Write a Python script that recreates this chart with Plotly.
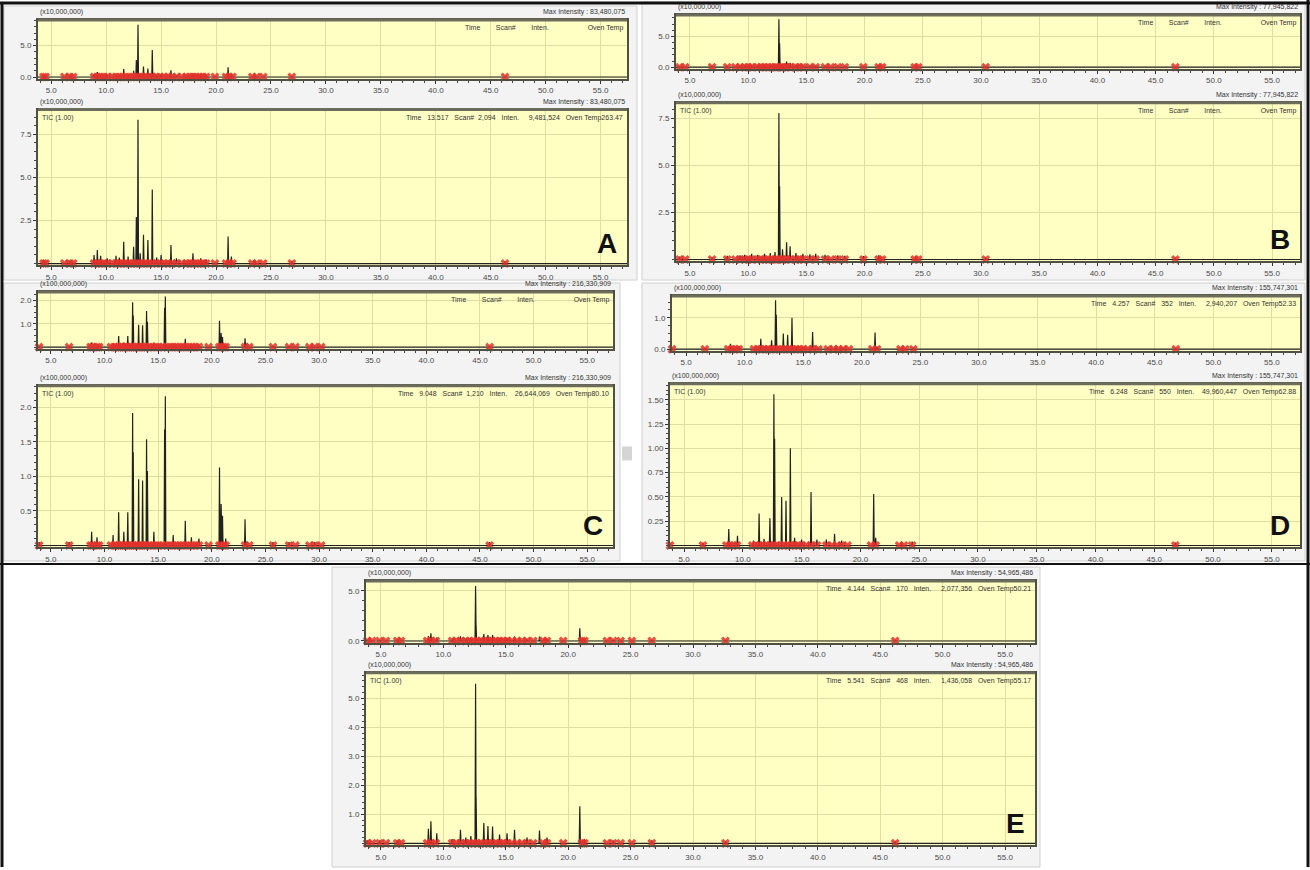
import plotly.graph_objects as go

W, H = 1310, 870

# ---------------- data (retention time in min, intensity in axis units) ----------------
A_peak_rt = [4.3, 6.7, 8.9, 9.2, 9.5, 10.1, 10.9, 11.2, 11.6, 12.0, 12.5, 12.75, 12.9, 13.1, 13.4, 13.8, 14.2, 14.6, 15.0, 15.9, 16.4, 17.9, 18.6, 19.1, 21.1, 21.4, 23.5, 26.9, 46.3]
A_peak_h = [0.2, 0.15, 0.5, 0.78, 0.45, 0.3, 0.45, 0.35, 1.27, 0.4, 0.98, 2.7, 8.35, 0.6, 1.67, 1.37, 4.3, 0.35, 0.5, 1.08, 0.3, 0.6, 0.3, 0.25, 1.57, 0.4, 0.2, 0.15, 0.12]
A_marker_rt = [4.3, 4.5, 6.2, 6.7, 7.0, 8.9, 9.2, 9.5, 9.8, 10.1, 10.6, 10.9, 11.2, 11.5, 11.8, 12.1, 12.4, 12.7, 13.0, 13.3, 13.6, 13.9, 14.2, 14.6, 14.9, 15.3, 15.6, 16.0, 16.4, 16.9, 17.3, 17.6, 17.9, 18.2, 18.5, 18.8, 19.1, 19.9, 20.9, 21.2, 21.5, 23.3, 23.7, 24.3, 26.9, 46.3]

B_peak_rt = [4.1, 6.9, 8.2, 9.3, 9.7, 10.3, 10.8, 11.4, 11.9, 12.3, 12.64, 12.7, 12.95, 13.3, 13.6, 14.1, 14.7, 15.3, 15.8, 16.6, 17.7, 18.3, 19.9, 21.2, 24.4, 30.4, 46.7]
B_peak_h = [0.15, 0.12, 0.2, 0.22, 0.25, 0.3, 0.25, 0.3, 0.35, 0.4, 7.79, 3.9, 0.55, 0.92, 0.7, 0.35, 0.3, 0.28, 0.3, 0.25, 0.22, 0.2, 0.18, 0.22, 0.15, 0.1, 0.1]
B_marker_rt = [4.1, 4.6, 6.9, 8.2, 8.9, 9.3, 9.7, 10.0, 10.3, 10.8, 11.1, 11.4, 11.7, 12.0, 12.3, 12.5, 12.8, 13.0, 13.3, 13.6, 14.1, 14.4, 14.7, 15.3, 15.8, 16.6, 17.1, 17.7, 18.3, 19.9, 21.2, 21.5, 24.3, 24.6, 30.4, 46.7]

C_peak_rt = [3.9, 6.7, 8.8, 9.3, 10.8, 11.32, 11.8, 12.17, 12.62, 12.68, 13.18, 13.55, 13.92, 14.0, 14.6, 15.6, 15.67, 16.4, 17.53, 18.1, 18.8, 20.72, 20.87, 21.0, 21.3, 23.1, 25.7, 27.2, 29.6, 45.9]
C_peak_h = [0.05, 0.05, 0.2, 0.12, 0.15, 0.48, 0.2, 0.48, 1.92, 1.35, 0.96, 0.94, 1.54, 1.08, 0.2, 1.68, 2.16, 0.15, 0.36, 0.12, 0.1, 1.13, 0.6, 0.43, 0.1, 0.38, 0.05, 0.05, 0.05, 0.05]
C_marker_rt = [3.9, 6.7, 8.7, 8.9, 9.3, 9.5, 10.6, 10.9, 11.1, 11.3, 11.5, 11.7, 11.9, 12.1, 12.3, 12.5, 12.7, 12.9, 13.1, 13.3, 13.5, 13.7, 13.9, 14.2, 14.5, 14.8, 15.1, 15.4, 15.8, 16.1, 16.4, 16.7, 17.0, 17.3, 17.6, 17.9, 18.2, 18.5, 18.8, 19.7, 20.7, 20.9, 21.1, 21.3, 23.1, 23.5, 25.7, 27.2, 27.8, 29.1, 29.6, 30.2, 45.9]

D_peak_rt = [3.8, 6.6, 8.8, 9.54, 10.9, 11.38, 11.8, 12.3, 12.64, 12.7, 13.3, 13.67, 14.04, 14.4, 15.0, 15.8, 16.3, 17.1, 17.8, 18.4, 21.13, 21.3, 23.5, 24.4, 46.8]
D_peak_h = [0.03, 0.03, 0.17, 0.1, 0.05, 0.33, 0.07, 0.28, 1.557, 1.1, 0.5, 0.46, 1.0, 0.08, 0.06, 0.55, 0.06, 0.06, 0.12, 0.05, 0.53, 0.08, 0.04, 0.04, 0.03]
D_marker_rt = [3.8, 6.6, 8.6, 8.9, 9.2, 9.5, 10.8, 11.1, 11.4, 11.7, 12.0, 12.3, 12.6, 12.9, 13.2, 13.5, 13.8, 14.1, 14.4, 14.7, 15.0, 15.4, 15.8, 16.3, 17.1, 17.6, 18.0, 18.4, 18.9, 20.9, 21.3, 23.3, 23.7, 24.4, 46.8]

E_peak_rt = [3.9, 4.9, 6.3, 8.8, 9.0, 9.47, 10.7, 11.37, 11.8, 12.2, 12.58, 12.62, 13.24, 13.57, 13.94, 14.5, 15.1, 15.7, 16.7, 17.7, 18.3, 20.93, 21.3, 23.6, 26.7, 32.6, 46.2]
E_peak_h = [0.1, 0.1, 0.1, 0.5, 0.76, 0.35, 0.15, 0.47, 0.2, 0.25, 5.497, 1.6, 0.7, 0.6, 0.58, 0.3, 0.35, 0.47, 0.2, 0.44, 0.2, 1.28, 0.15, 0.1, 0.1, 0.08, 0.08]
E_marker_rt = [3.9, 4.3, 4.9, 5.4, 6.3, 6.6, 8.7, 9.0, 9.4, 10.7, 11.0, 11.4, 11.8, 12.1, 12.4, 12.7, 13.0, 13.3, 13.6, 13.9, 14.2, 14.5, 14.8, 15.1, 15.5, 15.9, 16.3, 16.7, 17.2, 18.0, 18.3, 19.6, 21.1, 21.3, 23.1, 23.6, 24.2, 25.1, 26.7, 32.6, 46.2]

labels = ["A", "B", "C", "D", "E"]
scale_text = ["(x10,000,000)", "(x10,000,000)", "(x100,000,000)", "(x100,000,000)", "(x10,000,000)"]
max_intensity = ["83,480,075", "77,945,822", "216,330,909", "155,747,301", "54,965,486"]
max_value = [8.348, 7.795, 2.163, 1.557, 5.497]

top_yticks = [[0.0, 5.0], [0.0, 5.0], [1.0, 2.0], [0.0, 1.0], [0.0, 5.0]]
top_ytext = [["0.0", "5.0"], ["0.0", "5.0"], ["1.0", "2.0"], ["0.0", "1.0"], ["0.0", "5.0"]]
top_minor = [1.0, 1.0, 0.25, 0.25, 1.0]
bot_yticks = [[2.5, 5.0, 7.5], [2.5, 5.0, 7.5], [0.5, 1.0, 1.5, 2.0], [0.25, 0.5, 0.75, 1.0, 1.25, 1.5], [1.0, 2.0, 3.0, 4.0, 5.0]]
bot_ytext = [["2.5", "5.0", "7.5"], ["2.5", "5.0", "7.5"], ["0.5", "1.0", "1.5", "2.0"],
             ["0.25", "0.50", "0.75", "1.00", "1.25", "1.50"], ["1.0", "2.0", "3.0", "4.0", "5.0"]]
bot_minor = [0.5, 0.5, 0.1, 0.05, 0.2]

top_status = ["Time        Scan#        Inten.                    Oven Temp",
              "Time        Scan#        Inten.                    Oven Temp",
              "Time        Scan#        Inten.                    Oven Temp",
              "Time   4.257   Scan#   352   Inten.     2,940,207   Oven Temp52.33",
              "Time   4.144   Scan#   170   Inten.     2,077,356   Oven Temp50.21"]
bot_status = ["Time   13.517   Scan#  2,094   Inten.     9,481,524   Oven Temp263.47",
              "Time        Scan#        Inten.                    Oven Temp",
              "Time   9.048   Scan#  1,210   Inten.    26,644,069   Oven Temp80.10",
              "Time   6.248   Scan#   550   Inten.    49,960,447   Oven Temp62.88",
              "Time   5.541   Scan#   468   Inten.     1,436,058   Oven Temp55.17"]

peaks = [(A_peak_rt, A_peak_h), (B_peak_rt, B_peak_h), (C_peak_rt, C_peak_h), (D_peak_rt, D_peak_h), (E_peak_rt, E_peak_h)]
markers = [A_marker_rt, B_marker_rt, C_marker_rt, D_marker_rt, E_marker_rt]

# ---------------- layout geometry (pixels) ----------------
X_RANGE = [3.8, 57.4]
top_boxes = [(38, 20, 627, 79), (676, 15, 1300, 69), (38, 293, 613, 350), (672, 297, 1300, 352), (366, 583, 1035, 645)]
bot_boxes = [(38, 110, 627, 266), (676, 103, 1300, 262), (38, 387, 613, 549), (670, 385, 1300, 549), (366, 675, 1035, 848)]
panel_boxes = [(4, 6, 637, 281), (642, 2, 1305, 281), (4, 284, 620, 563), (642, 284, 1305, 563), (332, 569, 1040, 870)]

YELLOW = "#ffffc4"
GRID = "#dedea0"
FRAME = "#505040"
TXT = "#4a4a4a"
FONT = "Liberation Sans, Arial, sans-serif"


def chrom_line(rts, hs, w=0.045):
    pairs = sorted(zip(rts, hs))
    xs, ys = [X_RANGE[0]], [0.0]
    for rt, h in pairs:
        xs += [rt - w, rt, rt + w]
        ys += [0.0, h, 0.0]
    xs.append(X_RANGE[1])
    ys.append(0.0)
    return xs, ys


fig = go.Figure()
shapes = []
annotations = []

for (x0, y0, x1, y1) in panel_boxes:
    shapes.append(dict(type="rect", xref="paper", yref="paper", x0=x0 / W, x1=x1 / W,
                       y0=1 - y1 / H, y1=1 - y0 / H, fillcolor="#f3f3f3",
                       line=dict(color="#cfcfcf", width=1), layer="below"))

ax = 0
for p in range(5):
    rts, hs = peaks[p]
    xs, ys = chrom_line(rts, hs)
    for kind in ("top", "bot"):
        ax += 1
        box = top_boxes[p] if kind == "top" else bot_boxes[p]
        x0, y0, x1, y1 = box
        if kind == "top":
            ymax = max_value[p] * 1.09
            yr = [-0.03 * ymax, ymax]
            tv, tt, mn = top_yticks[p], top_ytext[p], top_minor[p]
        else:
            ymax = max_value[p] * 1.07
            yr = [-0.01 * ymax, ymax]
            tv, tt, mn = bot_yticks[p], bot_ytext[p], bot_minor[p]
        xa = "x" if ax == 1 else f"x{ax}"
        ya = "y" if ax == 1 else f"y{ax}"
        xd, yd = f"{xa} domain", f"{ya} domain"
        shapes.append(dict(type="rect", xref=xd, yref=yd, x0=0, x1=1, y0=0, y1=1,
                           fillcolor=YELLOW, line=dict(width=0), layer="below"))
        shapes.append(dict(type="line", xref=xd, yref=yd, x0=0, x1=1, y0=1, y1=1,
                           line=dict(color="#6c6c5c", width=3), layer="above"))
        fig.add_trace(go.Scatter(x=xs, y=ys, mode="lines", line=dict(color="#222222", width=1.2),
                                 xaxis=xa, yaxis=ya, showlegend=False, hoverinfo="skip"))
        fig.add_trace(go.Scatter(x=markers[p], y=[0.0] * len(markers[p]), mode="markers",
                                 marker=dict(symbol="x", size=8, color="#e3312b", opacity=0.85,
                                             line=dict(width=0)),
                                 cliponaxis=False, xaxis=xa, yaxis=ya, showlegend=False, hoverinfo="skip"))
        key = "" if ax == 1 else str(ax)
        fig.update_layout(**{
            f"xaxis{key}": dict(domain=[x0 / W, x1 / W], anchor=ya, range=X_RANGE,
                                tick0=5, dtick=5, tickformat=".1f", ticks="outside", ticklen=3,
                                tickcolor="#333", tickfont=dict(size=8, color=TXT, family=FONT),
                                showgrid=True, gridcolor=GRID, gridwidth=1, zeroline=False,
                                showline=True, linecolor=FRAME, linewidth=2, mirror=True,
                                minor=dict(dtick=1, tick0=0, ticks="outside", ticklen=2, tickcolor="#444",
                                           showgrid=False)),
            f"yaxis{key}": dict(domain=[1 - y1 / H, 1 - y0 / H], anchor=xa, range=yr,
                                tickmode="array", tickvals=tv, ticktext=tt, ticks="outside", ticklen=3,
                                tickcolor="#333", tickfont=dict(size=8, color=TXT, family=FONT),
                                showgrid=True, gridcolor=GRID, gridwidth=1, zeroline=False,
                                showline=True, linecolor=FRAME, linewidth=2, mirror=True,
                                minor=dict(dtick=mn, tick0=0, ticks="outside", ticklen=2, tickcolor="#444",
                                           showgrid=False)),
        })
        small = dict(size=7, color="#333", family=FONT)
        annotations.append(dict(text=scale_text[p], xref=xd, yref=yd, x=0, y=1, xanchor="left",
                                yanchor="bottom", yshift=2, showarrow=False, font=small))
        annotations.append(dict(text="Max Intensity : " + max_intensity[p], xref=xd, yref=yd, x=1, y=1,
                                xanchor="right", yanchor="bottom", yshift=2, showarrow=False, font=small))
        status = top_status[p] if kind == "top" else bot_status[p]
        annotations.append(dict(text=status, xref=xd, yref=yd, x=1, y=1, xanchor="right", yanchor="top",
                                xshift=-2, yshift=-2, showarrow=False, font=small))
        if kind == "bot":
            annotations.append(dict(text="TIC (1.00)", xref=xd, yref=yd, x=0, y=1, xanchor="left",
                                    yanchor="top", xshift=2, yshift=-2, showarrow=False, font=small))
            annotations.append(dict(text="<b>" + labels[p] + "</b>", xref=xd, yref=yd, x=1, y=0,
                                    xanchor="right", yanchor="bottom", xshift=-8, yshift=4, showarrow=False,
                                    font=dict(size=28, color="#111", family="Liberation Sans, Arial")))

# outer black frame lines
for (x0, y0, x1, y1, wd) in [(0, 3, 1310, 3, 3), (2, 3, 2, 870, 3), (1308, 0, 1308, 870, 3), (0, 566, 1310, 566, 2)]:
    shapes.append(dict(type="line", xref="paper", yref="paper", x0=x0 / W, x1=x1 / W,
                       y0=1 - y0 / H, y1=1 - y1 / H, line=dict(color="#111", width=wd), layer="above"))
# small scrollbar block beside panel C
shapes.append(dict(type="rect", xref="paper", yref="paper", x0=622 / W, x1=632 / W,
                   y0=1 - 462 / H, y1=1 - 448 / H, fillcolor="#d5d5d5", line=dict(width=0)))

fig.update_layout(width=W, height=H, margin=dict(l=0, r=0, t=0, b=0), paper_bgcolor="white",
                  plot_bgcolor=YELLOW, shapes=shapes, annotations=annotations, showlegend=False,
                  font=dict(family=FONT))

fig.write_html("out.html", config={"displayModeBar": False},
               post_script="document.body.style.margin='0';document.body.style.overflow='hidden';")
